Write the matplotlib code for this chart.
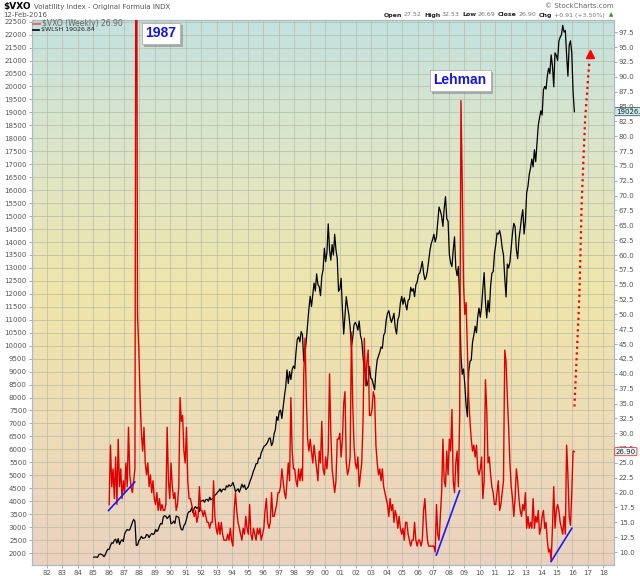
import numpy as np
import matplotlib.pyplot as plt
from matplotlib import transforms
from matplotlib import patheffects
from matplotlib.lines import Line2D
from matplotlib.colors import LinearSegmentedColormap

# weekly chart, values read off roughly once a month
vxo_start = 1986
vxo_monthly = [
    18, 28, 21, 24, 19, 26, 18, 29, 21, 24, 19, 22,   # 1986
    20, 25, 21, 31, 23, 21, 20, 22, 24, 150, 50, 44,  # 1987
    36, 30, 27, 31, 25, 23, 25, 21, 23, 20, 22, 19,   # 1988
    18, 20, 17, 19, 17, 18, 17, 17, 18, 31, 22, 19,   # 1989
    25, 21, 19, 20, 17, 18, 21, 36, 32, 33, 27, 25,   # 1990
    31, 22, 19, 19, 18, 17, 16, 17, 15, 16, 21, 17,   # 1991
    17, 16, 17, 16, 15, 15, 14, 15, 15, 22, 16, 14,   # 1992
    13, 15, 13, 15, 13, 12, 12, 12, 13, 12, 14, 12,   # 1993
    11, 17, 20, 17, 15, 14, 13, 12, 14, 13, 16, 14,   # 1994
    13, 18, 13, 12, 14, 13, 12, 14, 13, 14, 12, 13,   # 1995
    14, 17, 19, 15, 14, 15, 20, 16, 16, 17, 18, 20,   # 1996
    20, 21, 24, 22, 20, 19, 22, 25, 22, 36, 27, 24,   # 1997
    24, 22, 21, 24, 22, 24, 22, 40, 46, 36, 29, 27,   # 1998
    29, 27, 25, 28, 26, 24, 22, 27, 25, 32, 24, 23,   # 1999
    26, 24, 27, 40, 30, 24, 22, 20, 22, 29, 29, 30,   # 2000
    26, 29, 35, 37, 25, 23, 24, 26, 47, 35, 28, 25,   # 2001
    24, 26, 21, 23, 25, 32, 46, 38, 42, 44, 33, 33,   # 2002
    34, 37, 36, 28, 25, 23, 24, 22, 24, 21, 20, 19,   # 2003
    18, 16, 19, 17, 18, 15, 17, 16, 14, 16, 14, 13,   # 2004
    14, 12, 15, 15, 13, 12, 11, 12, 12, 15, 12, 11,   # 2005
    12, 12, 11, 12, 17, 19, 15, 12, 11, 11, 11, 11,   # 2006
    11, 10, 18, 13, 12, 16, 20, 29, 22, 21, 27, 23,   # 2007
    29, 27, 34, 22, 20, 25, 27, 21, 33, 86, 72, 55,   # 2008
    50, 52, 44, 36, 32, 29, 27, 28, 26, 28, 24, 23,   # 2009
    24, 26, 19, 22, 39, 34, 25, 26, 23, 21, 20, 18,   # 2010
    18, 20, 22, 17, 18, 20, 22, 44, 42, 36, 31, 25,   # 2011
    21, 19, 16, 19, 24, 22, 19, 17, 16, 18, 17, 20,   # 2012
    14, 16, 14, 15, 14, 19, 14, 16, 15, 17, 13, 14,   # 2013
    16, 17, 14, 15, 12, 10, 10.5, 8.5, 14, 21, 14, 17,  # 2014
    18, 17, 15, 14, 13, 16, 13, 28, 23, 16, 14.5, 20,   # 2015
    27, 26.90,                                          # 2016
]

wlsh_start = 1985
wlsh_monthly = [
    1840, 1850, 1845, 1835, 1940, 1960, 1950, 1920, 1860, 1940, 2060, 2150,
    2140, 2290, 2400, 2375, 2495, 2535, 2385, 2555, 2335, 2455, 2515, 2445,
    2740, 2840, 2910, 2880, 2900, 3040, 3180, 3300, 3220, 2300, 2300, 2470,
    2545, 2645, 2565, 2585, 2595, 2715, 2695, 2595, 2695, 2760, 2715, 2750,
    2910, 2830, 2890, 3040, 3145, 3115, 3390, 3440, 3420, 3330, 3390, 3460,
    3125, 3155, 3230, 3145, 3430, 3400, 3380, 3070, 2905, 2890, 3060, 3135,
    3300, 3525, 3600, 3600, 3745, 3560, 3725, 3790, 3725, 3765, 3600, 4005,
    4010, 4045, 3960, 4065, 4070, 4000, 4155, 4055, 4095, 4105, 4225, 4275,
    4345, 4385, 4475, 4355, 4455, 4465, 4435, 4595, 4545, 4635, 4575, 4615,
    4725, 4575, 4370, 4420, 4480, 4350, 4490, 4655, 4535, 4625, 4450, 4500,
    4560, 4725, 4860, 4995, 5170, 5285, 5450, 5450, 5665, 5645, 5870, 5975,
    6105, 6145, 6200, 6280, 6420, 6440, 6145, 6260, 6595, 6770, 7265, 7115,
    7465, 7515, 7190, 7610, 8055, 8410, 9065, 8540, 9000, 8695, 9075, 9215,
    9115, 9755, 10250, 10340, 10145, 10545, 10425, 9400, 9700, 10220, 10825, 11430,
    11905, 11515, 11960, 12415, 12110, 12770, 12360, 12275, 11930, 12675, 12920, 13760,
    13240, 13600, 14700, 13700, 13300, 13900, 13500, 14300, 13700, 13350, 12100, 12180,
    12600, 11400, 10450, 11200, 11890, 11500, 11200, 10700, 9960, 10300, 10800, 10900,
    10800, 10600, 10950, 10400, 10200, 9600, 9000, 9100, 8450, 8600, 9200, 8750,
    8700, 8500, 8300, 9000, 9450, 9600, 9750, 9950, 9900, 10400, 10500, 11000,
    11250, 11350, 11100, 10900, 11050, 11250, 10700, 10450, 11000, 11150, 11650, 11900,
    11600, 11850, 11600, 11380, 11750, 11800, 12250, 12100, 12200, 11890, 12350, 12450,
    12750, 12800, 13000, 13250, 12800, 12550, 12650, 12900, 13300, 13700, 13950, 14100,
    14300, 14000, 14200, 14800, 15350, 15200, 15000, 14600, 15300, 15750, 14900, 14800,
    13500, 13200, 13050, 13700, 14200, 13000, 12700, 13050, 11800, 9600, 8900, 9100,
    8500, 7700, 7260, 9000, 9400, 9450, 10150, 10400, 10750, 10500, 11100, 11450,
    11100, 11500, 12200, 12820, 11700, 11070, 11750, 11300, 12300, 12800, 12850, 13550,
    13900, 14350, 14300, 14440, 14200, 13770, 13500, 12600, 11880, 13150, 13000, 13230,
    13800, 14350, 14720, 14600, 13700, 13360, 14100, 14500, 14950, 15250, 14310, 14800,
    15900, 16150, 16610, 16850, 17200, 16900, 17560, 17100, 17800, 18500, 18800, 19060,
    18900, 19870, 20000, 19900, 20400, 20700, 20500, 21220, 20800, 19990, 21300, 21200,
    21000, 21750, 21900, 22000, 22360, 22100, 22160, 21200, 20400, 21600, 21760, 21300,
    19800, 19026.84,
]

trend_years = [[1986.0, 1987.7], [2007.2, 2008.7], [2014.62, 2015.96]]
trend_vxo = [[17.0, 21.8], [9.5, 20.3], [8.4, 14.0]]

arrow_years = [2016.13, 2016.45, 2016.6, 2016.82, 2017.1]
arrow_vxo = [34.5, 53, 68.8, 82.8, 92.8]

year_ticks = list(range(1982, 2019))

quote_parts = [('Open', True), ('27.52', False), ('High', True), ('32.53', False),
               ('Low', True), ('26.69', False), ('Close', True), ('26.90', False),
               ('Chg', True), ('+0.91 (+3.50%)', False)]

vxo_x = vxo_start + (np.arange(len(vxo_monthly)) + 0.5) / 12
wlsh_x = wlsh_start + (np.arange(len(wlsh_monthly)) + 0.5) / 12

fig = plt.figure(figsize=(6.4, 5.76), dpi=100)
ax = fig.add_axes([0.0495, 0.0191, 0.9099, 0.9462])

# background gradient, peach at bottom -> yellow -> teal at top
cmap = LinearSegmentedColormap.from_list('bg', [
    (0.0, '#ebd2c0'), (0.25, '#eddcb6'), (0.5, '#efe5aa'),
    (0.75, '#dde5c8'), (1.0, '#c3e2df')])
grad = np.linspace(0, 1, 256).reshape(-1, 1)
ax.imshow(grad, extent=[0, 1, 0, 1], transform=ax.transAxes, aspect='auto',
          cmap=cmap, origin='lower', zorder=0)

ax.plot(wlsh_x, wlsh_monthly, color='black', lw=0.9, zorder=3)
ax.set_xlim(1981.03, 2018.69)
ax.set_ylim(1539, 22566)
ax.set_xticks(year_ticks)
ax.set_xticklabels(['%02d' % (y % 100) for y in year_ticks])
ax.set_yticks(np.arange(2000, 22501, 500))
ax.set_yticklabels([str(v) for v in range(2000, 22501, 500)])
ax.set_axisbelow(True)
ax.grid(True, color='#b4b8a4', lw=0.6, alpha=0.75)
ax.tick_params(labelsize=5, labelcolor='#555555', color='#888888',
               length=2, width=0.5, pad=1.5)

ax2 = ax.twinx()
ax2.plot(vxo_x, vxo_monthly, color='#e00000', lw=1.0, zorder=3)
for ty, tv in zip(trend_years, trend_vxo):
    ax2.plot(ty, tv, color='#1a1aff', lw=1.2, zorder=4)
ax2.plot(arrow_years, arrow_vxo, color='red', lw=1.6, ls=(0, (1, 1.6)), zorder=4)
ax2.plot(arrow_years[-1] + 0.04, arrow_vxo[-1] + 1.0, marker='^', ms=6,
         color='red', zorder=4)
ax2.set_ylim(7.82, 99.57)
rticks = np.arange(10, 97.6, 2.5)
ax2.set_yticks(rticks)
ax2.set_yticklabels(['%.1f' % v for v in rticks])
ax2.tick_params(labelsize=5, labelcolor='#555555', color='#888888',
                length=2, width=0.5, pad=1.5)

for a in (ax, ax2):
    for s in a.spines.values():
        s.set_color('#a9b9c6')
        s.set_linewidth(0.8)

# annotation boxes with a drop shadow
def label_box(x, y, txt):
    t = ax2.text(x, y, txt, ha='center', va='center', fontsize=10, weight='bold',
                 family='Liberation Sans', color='#1414e6',
                 bbox=dict(boxstyle='square,pad=0.28', fc='white', ec='#b0b0b0', lw=0.6),
                 zorder=6)
    t.get_bbox_patch().set_path_effects([
        patheffects.SimplePatchShadow(offset=(2, -2), shadow_rgbFace='#888888', alpha=0.6),
        patheffects.Normal()])

label_box(1989.39, 97.3, '1987')
label_box(2008.74, 89.4, 'Lehman')

# last value tags on the right axis
ax.text(1.003, wlsh_monthly[-1], '19026.8', transform=transforms.blended_transform_factory(
    ax.transAxes, ax.transData), ha='left', va='center', fontsize=5, color='#222222',
    bbox=dict(boxstyle='round,pad=0.15', fc='#c9ecef', ec='#333333', lw=0.5),
    clip_on=False, zorder=7)
ax2.text(1.003, vxo_monthly[-1], '26.90', transform=transforms.blended_transform_factory(
    ax2.transAxes, ax2.transData), ha='left', va='center', fontsize=5, color='#222222',
    bbox=dict(boxstyle='round,pad=0.15', fc='#e4f6f6', ec='#e03030', lw=0.6),
    clip_on=False, zorder=7)

# legend in the top-left corner
fig.add_artist(Line2D([33 / 640, 40 / 640], [1 - 23.5 / 576] * 2, color='#e07070', lw=1.5))
fig.text(42 / 640, 1 - 23.5 / 576, '$VXO (Weekly) 26.90', fontsize=5.5, color='#666666',
         va='center')
fig.add_artist(Line2D([33 / 640, 39 / 640], [1 - 30 / 576] * 2, color='black', lw=1.2))
fig.text(41 / 640, 1 - 30 / 576, '$WLSH 19026.84', fontsize=4.5, color='#222222',
         va='center')

# header
fig.text(3 / 640, 1 - 7 / 576, '$VXO', fontsize=6.5, weight='bold', va='center')
fig.text(34 / 640, 1 - 7 / 576, 'Volatility Index - Original Formula INDX', fontsize=5,
         color='#555555', va='center')
fig.text(3 / 640, 1 - 15 / 576, '12-Feb-2016', fontsize=5, color='#555555', va='center')
fig.text(614 / 640, 1 - 6 / 576, '© StockCharts.com', ha='right', fontsize=5,
         color='#666666', va='center')

# quote line laid out piece by piece from the left
renderer = fig.canvas.get_renderer()
hx = 384.0
for htxt, bold in quote_parts:
    t = fig.text(hx / 640, 1 - 15 / 576, htxt, fontsize=4.5, va='center',
                 weight='bold' if bold else 'normal',
                 color='#222222' if bold else '#777777')
    hx = t.get_window_extent(renderer).x1 + (1.5 if bold else 2.5)
fig.text(609 / 640, 1 - 15 / 576, '▲', fontsize=4, color='#2a8a2a', va='center')

fig.savefig('out.png', dpi=100)
